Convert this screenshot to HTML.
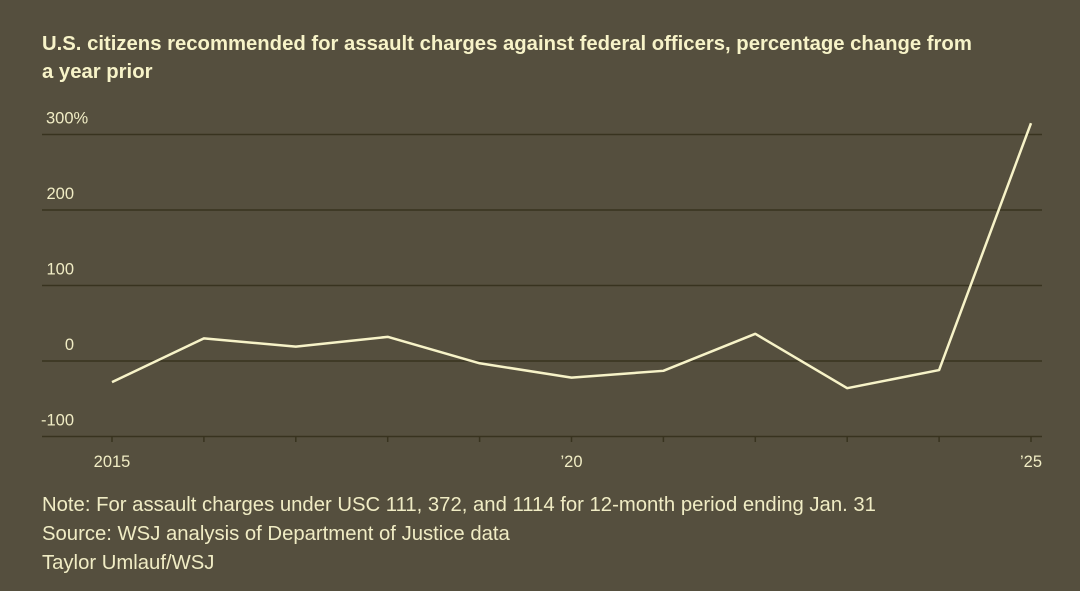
<!DOCTYPE html>
<html><head><meta charset="utf-8"><style>
body{margin:0;width:1080px;height:591px;background:#554f3e;overflow:hidden;font-family:"Liberation Sans",sans-serif;}
svg{position:absolute;left:0;top:0}
</style></head><body>
<svg width="1080" height="591">
<text x="42" y="50" fill="#f7f3c8" font-size="20.3" font-weight="bold">U.S. citizens recommended for assault charges against federal officers, percentage change from</text>
<text x="42" y="78" fill="#f7f3c8" font-size="20.3" font-weight="bold">a year prior</text>
<g id="grid"></g><g id="xax"></g>
<path id="line" fill="none" stroke="#f7f3c8" stroke-width="2.5" stroke-linejoin="round"/>
<text x="42" y="511" fill="#f0ecc4" font-size="20.3">Note: For assault charges under USC 111, 372, and 1114 for 12-month period ending Jan. 31</text>
<text x="42" y="540" fill="#f0ecc4" font-size="20.3">Source: WSJ analysis of Department of Justice data</text>
<text x="42" y="569" fill="#f0ecc4" font-size="20.3">Taylor Umlauf/WSJ</text>
</svg>
<script>
const years=[2015,2016,2017,2018,2019,2020,2021,2022,2023,2024,2025];
const values=[-28,30,19,32,-3,-22,-13,36,-36,-12,315];
const yTicks=[300,200,100,0,-100];
const yLabels=["300%","200","100","0","-100"];
const xLabelYears=[2015,2020,2025];
const xLabels=["2015","’20","’25"];
const NS="http://www.w3.org/2000/svg";
const y=v=>361-v*0.755;
const x=yr=>112+(yr-2015)*91.9;
const grid=document.getElementById('grid'),xax=document.getElementById('xax');
yTicks.forEach((t,i)=>{
 const l=document.createElementNS(NS,'line');
 l.setAttribute('x1',42);l.setAttribute('x2',1042);l.setAttribute('y1',y(t));l.setAttribute('y2',y(t));
 l.setAttribute('stroke','#38331f');l.setAttribute('stroke-width','1.5');
 
 
 grid.appendChild(l);
 const tx=document.createElementNS(NS,'text');
 if(i===0){tx.setAttribute('x',46);}else{tx.setAttribute('x',74);tx.setAttribute('text-anchor','end');}
 tx.setAttribute('y',y(t)-11);tx.setAttribute('fill','#f0ecc4');tx.setAttribute('font-size','16.5');
 tx.textContent=yLabels[i];
 
 
 grid.appendChild(tx);
});
years.forEach(yr=>{
 const l=document.createElementNS(NS,'line');
 l.setAttribute('x1',x(yr));l.setAttribute('x2',x(yr));l.setAttribute('y1',436);l.setAttribute('y2',442);
 l.setAttribute('stroke','#38331f');l.setAttribute('stroke-width','1.5');
 
 
 xax.appendChild(l);
});
xLabelYears.forEach((yr,i)=>{
 const tx=document.createElementNS(NS,'text');
 tx.setAttribute('x',x(yr));tx.setAttribute('y',467);tx.setAttribute('text-anchor','middle');
 tx.setAttribute('fill','#f0ecc4');tx.setAttribute('font-size','16.5');
 tx.textContent=xLabels[i];
 
 
 xax.appendChild(tx);
});
document.getElementById('line').setAttribute('d',years.map((yr,i)=>(i?'L':'M')+x(yr)+','+y(values[i])).join(' '));
</script>
</body></html>
